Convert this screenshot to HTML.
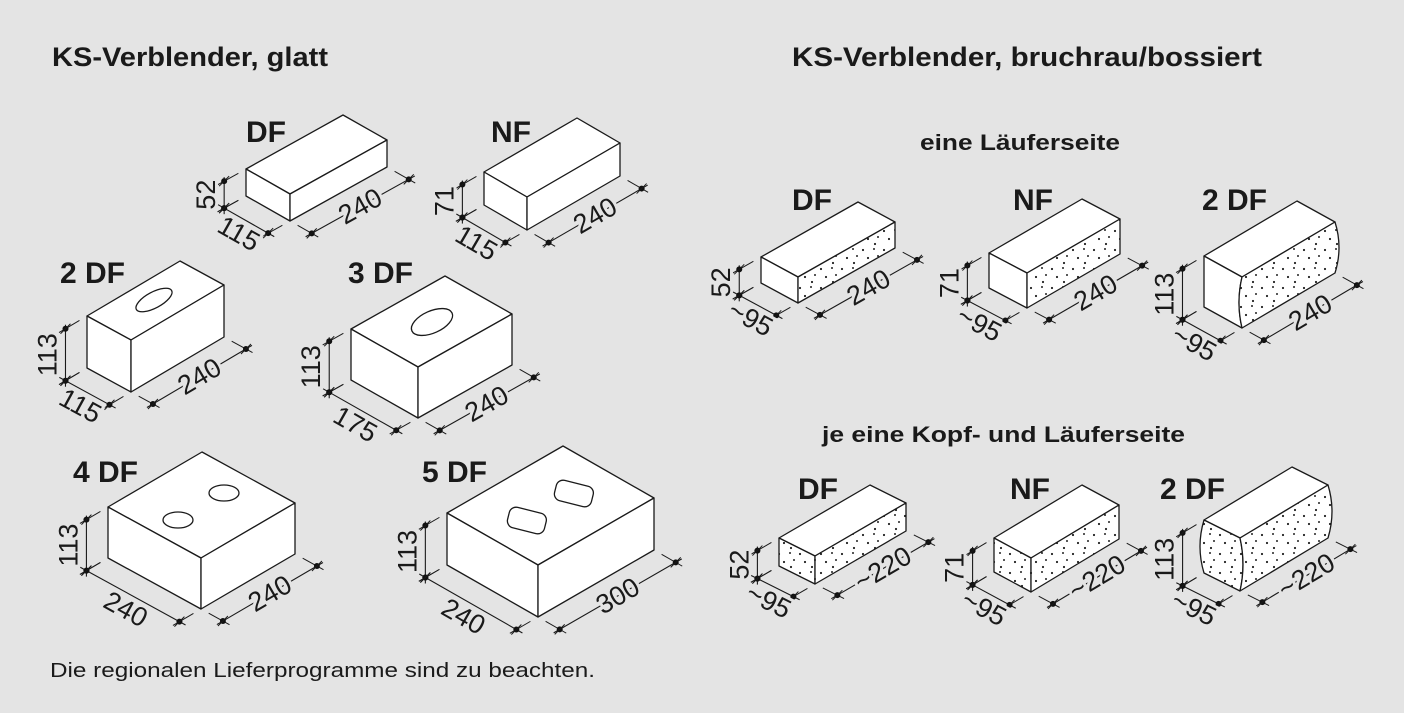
<!DOCTYPE html>
<html><head><meta charset="utf-8">
<style>
html,body{margin:0;padding:0;background:#e4e4e4;}
svg{display:block;font-family:"Liberation Sans",sans-serif;}
</style></head>
<body>
<svg id="s" width="1404" height="713" viewBox="0 0 1404 713" xmlns="http://www.w3.org/2000/svg">
<defs>
<pattern id="dots" patternUnits="userSpaceOnUse" width="21" height="19">
<circle cx="2" cy="3" r="1.1" fill="#222"/>
<circle cx="13" cy="2" r="1" fill="#222"/>
<circle cx="7" cy="11" r="1.1" fill="#222"/>
<circle cx="17" cy="9" r="1" fill="#222"/>
<circle cx="14" cy="16" r="1.1" fill="#222"/>
</pattern>
</defs>
<rect width="1404" height="713" fill="#e4e4e4"/>
<g font-weight="bold" fill="#1a1a1a">
<text x="52" y="66" font-size="27" textLength="276" lengthAdjust="spacingAndGlyphs">KS-Verblender, glatt</text>
<text x="792" y="66" font-size="27" textLength="470" lengthAdjust="spacingAndGlyphs">KS-Verblender, bruchrau/bossiert</text>
<text x="920" y="150" font-size="22" textLength="200" lengthAdjust="spacingAndGlyphs">eine Läuferseite</text>
<text x="822" y="442" font-size="22" textLength="363" lengthAdjust="spacingAndGlyphs">je eine Kopf- und Läuferseite</text>
<text x="50" y="677" font-size="20" font-weight="normal" textLength="545" lengthAdjust="spacingAndGlyphs">Die regionalen Lieferprogramme sind zu beachten.</text>
</g>
<g id="g"></g>
</svg>
<script>
var G=document.getElementById("g");var out="";
function add(a,b){return [a[0]+b[0],a[1]+b[1]];}
function mul(a,k){return [a[0]*k,a[1]*k];}
function unit(a){var l=Math.hypot(a[0],a[1]);return [a[0]/l,a[1]/l];}
function pt(p){return p[0].toFixed(1)+","+p[1].toFixed(1);}
function line(p,q,w){out+='<line x1="'+p[0]+'" y1="'+p[1]+'" x2="'+q[0]+'" y2="'+q[1]+'" stroke="#1a1a1a" stroke-width="'+(w||1.2)+'"/>';}
function dot(p){out+='<circle cx="'+p[0]+'" cy="'+p[1]+'" r="3" fill="#111"/>';
 line([p[0]-5,p[1]+5],[p[0]+5,p[1]-5],1);}
function label(p,ang,t){out+='<text x="'+p[0]+'" y="'+p[1]+'" transform="rotate('+ang+' '+p[0]+' '+p[1]+')" font-size="27" text-anchor="middle" dominant-baseline="central" fill="#1a1a1a" stroke="#e4e4e4" stroke-width="6" paint-order="stroke">'+t+'</text>';}
function dim(p,q,off,t,loff,ang){
 var a=add(p,off),b=add(q,off),u=unit([b[0]-a[0],b[1]-a[1]]);
 line(add(p,mul(off,0.35)),add(p,mul(off,1.3)),1);
 line(add(q,mul(off,0.35)),add(q,mul(off,1.3)),1);
 line(add(a,mul(u,-7)),add(b,mul(u,7)),1.1);
 dot(a);dot(b);
 var m=[(a[0]+b[0])/2+loff[0],(a[1]+b[1])/2+loff[1]];
 label(m,ang,t);
}
function box(o){
 var A=o.A,d=o.d,L=o.L,h=[0,o.h];
 var B=add(A,d),C=add(B,L),K=add(A,L),A2=add(A,h),B2=add(B,h),C2=add(C,h);
 var ca=o.ca||0,cb=o.cb||0,cc=o.cc||0;
 var st=' stroke="#1a1a1a" stroke-width="1.3" stroke-linejoin="round"';
 out+='<polygon points="'+[A,B,C,K].map(pt).join(" ")+'" fill="#fff"'+st+'/>';
 var head='M'+pt(A)+' L'+pt(B)+' Q'+pt([B[0]+cb*2,(B[1]+B2[1])/2])+' '+pt(B2)+' L'+pt(A2)+' Q'+pt([A[0]+ca*2,(A[1]+A2[1])/2])+' '+pt(A)+'Z';
 var lng='M'+pt(B)+' L'+pt(C)+' Q'+pt([C[0]+cc*2,(C[1]+C2[1])/2])+' '+pt(C2)+' L'+pt(B2)+' Q'+pt([B[0]+cb*2,(B[1]+B2[1])/2])+' '+pt(B)+'Z';
 out+='<path d="'+head+'" fill="#fff"/>';
 if(o.dh)out+='<path d="'+head+'" fill="url(#dots)"/>';
 out+='<path d="'+head+'" fill="none"'+st+'/>';
 out+='<path d="'+lng+'" fill="#fff"/>';
 if(o.dl)out+='<path d="'+lng+'" fill="url(#dots)"/>';
 out+='<path d="'+lng+'" fill="none"'+st+'/>';
 if(o.holes)out+=o.holes;
 var uL=unit(L),ud=unit(d);
 var offV=mul(uL,-25),offL=mul(ud,25);
 var angD=Math.atan2(d[1],d[0])*180/Math.PI,angL=Math.atan2(L[1],L[0])*180/Math.PI;
 var a=add(A,offV),b=add(A2,offV);
 line(add(A,mul(offV,0.35)),add(A,mul(offV,1.3)),1);
 line(add(A2,mul(offV,0.35)),add(A2,mul(offV,1.3)),1);
 line([a[0],a[1]-4],[b[0],b[1]+6],1.1);dot(a);dot(b);
 label([a[0]-18,(a[1]+b[1])/2],-90,o.t[0]);
 var pd=unit([-d[1],d[0]]);
 dim(A2,B2,offV,o.t[1],mul(pd,15),angD);
 dim(B2,C2,offL,o.t[2],[0,0],angL);
 out+='<text x="'+o.lab[0]+'" y="'+o.lab[1]+'" font-size="30" font-weight="bold" fill="#1a1a1a">'+o.lab[2]+'</text>';
}
var H='fill="none" stroke="#1a1a1a" stroke-width="1.3"';
box({A:[246,169],d:[44,25],L:[97,-54],h:27,t:["52","115","240"],lab:[246,142,"DF"]});
box({A:[484,172],d:[43,25],L:[93,-54],h:33,t:["71","115","240"],lab:[491,142,"NF"]});
box({A:[87,316],d:[44,24],L:[93,-55],h:52,t:["113","115","240"],lab:[60,283,"2 DF"],
 holes:'<ellipse cx="154" cy="300" rx="20" ry="8" transform="rotate(-28 154 300)" '+H+'/>'});
box({A:[351,329],d:[67,38],L:[94,-53],h:51,t:["113","175","240"],lab:[348,283,"3 DF"],
 holes:'<ellipse cx="432" cy="322" rx="22" ry="11" transform="rotate(-24 432 322)" '+H+'/>'});
box({A:[108,507],d:[93,51],L:[94,-55],h:51,t:["113","240","240"],lab:[73,482,"4 DF"],
 holes:'<ellipse cx="178" cy="520" rx="15" ry="8" '+H+'/><ellipse cx="224" cy="493" rx="15" ry="8" '+H+'/>'});
box({A:[447,513],d:[91,52],L:[116,-67],h:52,t:["113","240","300"],lab:[422,482,"5 DF"],
 holes:'<rect x="508" y="510" width="38" height="21" rx="7" transform="rotate(14 527 520)" '+H+'/><rect x="555" y="483" width="38" height="21" rx="7" transform="rotate(14 574 493)" '+H+'/>'});
box({A:[761,257],d:[37,20],L:[97,-55],h:26,t:["52","~95","240"],lab:[792,210,"DF"],dl:1});
box({A:[989,253],d:[38,20],L:[93,-54],h:35,t:["71","~95","240"],lab:[1013,210,"NF"],dl:1});
box({A:[1204,256],d:[38,21],L:[93,-55],h:51,t:["113","~95","240"],lab:[1202,210,"2 DF"],dl:1,cb:-3,cc:4});
box({A:[779,538],d:[36,18],L:[91,-53],h:28,t:["52","~95","~220"],lab:[798,499,"DF"],dl:1,dh:1});
box({A:[994,538],d:[37,20],L:[88,-53],h:34,t:["71","~95","~220"],lab:[1010,499,"NF"],dl:1,dh:1});
box({A:[1204,520],d:[36,18],L:[88,-53],h:53,t:["113","~95","~220"],lab:[1160,499,"2 DF"],dl:1,dh:1,ca:-4,cb:3,cc:4});
G.innerHTML=out;
</script>
</body></html>
